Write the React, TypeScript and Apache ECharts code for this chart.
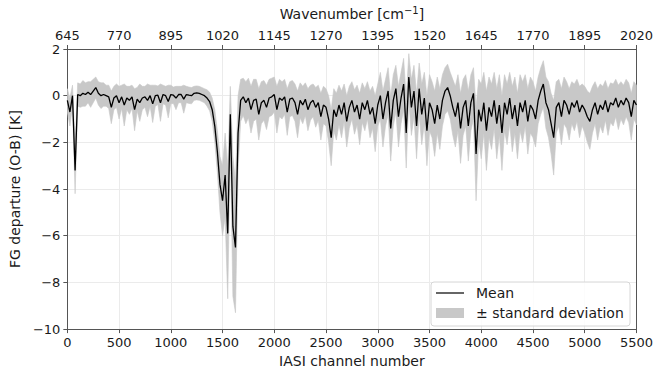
import React, { useEffect, useRef } from "react";
import * as echarts from "echarts";

// IASI channel sampling step of the arrays below (channel = index * step)
const CHANNEL_STEP = 25;

// Mean FG departure (O-B) [K], channels 0..5500 every 25
const MEAN = [
  // 0..400
  -0.2, -0.7, 0.0, -3.2, 0.05, 0.0, 0.1, 0.05, 0.15, 0.05, 0.2, 0.35, 0.1, 0.0, 0.05, 0.0, -0.05,
  // 425..1300
  -0.5, -0.1, 0.0, -0.3, -0.05, -0.4, -0.1, -0.2, -0.05, -0.6, -0.15, -0.3, -0.1, -0.05, -0.2, 0.0, -0.35, 0.0,
  0.02, -0.3, 0.05, 0.0, -0.25, 0.05, 0.02, -0.1, 0.05, 0.05, -0.15, 0.05, 0.02, 0.0, 0.1, 0.12, 0.1, 0.05,
  // 1325..1700
  0.0, -0.1, -0.25, -0.6, -1.3, -2.4, -3.8, -4.5, -3.4, -5.9, -0.8, -5.6, -6.5, -1.6, -0.2, -0.05,
  // 1725..2500
  -0.3, -0.1, -0.6, -0.2, -0.15, -0.8, -0.3, -0.2, -0.5, -0.1, -0.05, 0.05, -0.6, -0.1, -0.2, -0.05,
  -0.7, -0.15, -0.1, -0.3, -0.8, -0.2, -0.4, -0.15, -0.6, -0.3, -0.2, -0.5, -0.3, -0.9, -0.4, -0.5,
  // 2525..3000
  -1.0, -1.8, -0.6, -0.9, -0.4, -0.8, -0.3, -1.1, -0.5, -0.2, -0.7, -0.4, -1.0, -0.3, -0.6, -0.2, -0.8, -0.5, -1.2, -0.4,
  // 3025..3500
  0.0, -1.0, -0.3, 0.2, -1.4, -0.2, 0.3, -0.9, -0.1, 0.5, -1.6, 0.8, -0.5, 0.2, -1.3, 0.3, -0.8, -0.1, -1.5, -0.3,
  // 3525..4500
  -0.6, -1.2, -0.4, -1.0, -0.2, 0.2, 0.35, 0.0, -0.5, -0.9, -0.3, -1.4, -0.5, -0.2, -1.3, -0.3, 0.1, -2.5, -0.6, -1.1,
  -0.3, -1.5, -0.5, -0.9, -0.2, -1.2, -0.4, -1.6, -0.3, -0.8, -0.1, -1.0, -0.4, -1.3, -0.3, -0.7, -0.2, -1.1, -0.4, -0.6,
  // 4525..5500
  -1.0, -0.2, 0.2, 0.5, -0.3, -0.6, -1.2, -1.8, -0.5, -0.3, -0.9, -0.2, -0.4, -0.8, -0.3, -0.5, -0.2, -0.7, -0.4, -0.6,
  -0.9, -1.1, -0.6, -0.3, -0.8, -0.4, -0.6, -0.2, -0.7, -0.3, -0.4, -0.1, -0.5, -0.2, -0.4, -0.1, -0.3, -0.9, -0.2, -0.4,
];

// Standard deviation [K], same channels
const STD = [
  // 0..400
  0.5, 0.6, 0.45, 1.0, 0.5, 0.5, 0.55, 0.5, 0.45, 0.55, 0.5, 0.45, 0.5, 0.55, 0.5, 0.45, 0.5,
  // 425..1300
  0.7, 0.5, 0.5, 0.7, 0.5, 0.9, 0.5, 0.6, 0.5, 0.9, 0.5, 0.8, 0.5, 0.45, 0.7, 0.45, 0.8, 0.45,
  0.4, 0.8, 0.4, 0.4, 0.7, 0.4, 0.35, 0.5, 0.35, 0.35, 0.6, 0.35, 0.35, 0.35, 0.3, 0.3, 0.3, 0.3,
  // 1325..1700
  0.3, 0.35, 0.4, 0.5, 0.7, 0.9, 1.2, 1.5, 1.8, 2.8, 1.2, 3.0, 2.8, 1.6, 0.9, 0.8,
  // 1725..2500
  0.9, 0.85, 1.0, 0.9, 0.85, 1.1, 0.9, 0.85, 0.95, 0.8, 0.8, 0.75, 1.0, 0.8, 0.8, 0.75,
  1.0, 0.75, 0.75, 0.8, 1.0, 0.75, 0.8, 0.7, 0.9, 0.75, 0.7, 0.85, 0.75, 1.0, 0.8, 0.8,
  // 2525..3000
  1.0, 1.2, 0.9, 1.0, 0.85, 1.0, 0.8, 1.1, 0.9, 0.8, 0.95, 0.85, 1.1, 0.85, 0.9, 0.8, 1.0, 0.9, 1.2, 0.9,
  // 3025..3500
  1.0, 1.2, 1.0, 1.0, 1.4, 1.1, 1.0, 1.3, 1.1, 1.1, 1.5, 1.0, 1.2, 1.1, 1.4, 1.1, 1.3, 1.1, 1.5, 1.2,
  // 3525..4500
  1.2, 1.4, 1.2, 1.3, 1.1, 1.0, 1.0, 1.0, 1.2, 1.3, 1.2, 1.5, 1.2, 1.1, 1.5, 1.2, 1.1, 2.0, 1.3, 1.6,
  1.3, 1.7, 1.3, 1.4, 1.2, 1.5, 1.3, 1.6, 1.2, 1.3, 1.1, 1.4, 1.2, 1.4, 1.2, 1.3, 1.1, 1.4, 1.2, 1.2,
  // 4525..5500
  1.2, 1.0, 1.0, 1.0, 1.1, 1.2, 1.3, 1.6, 1.1, 1.0, 1.2, 1.0, 1.0, 1.1, 0.9, 1.0, 0.9, 1.1, 0.9, 1.0,
  1.1, 1.2, 1.0, 0.9, 1.1, 0.9, 1.0, 0.85, 1.0, 0.85, 0.9, 0.8, 0.95, 0.8, 0.85, 0.8, 0.85, 1.0, 0.8, 0.85,
];

// Top-axis tick labels (wavenumber, cm-1) at channels 0, 500, ..., 5500
const WAVENUMBER_LABELS = ["645", "770", "895", "1020", "1145", "1270", "1395", "1520", "1645", "1770", "1895", "2020"];

const FONT = "DejaVu Sans";
const TEXT = "#1a1a1a";
const SPINE = "#555555";
const GRIDC = "#ebebeb";
const BAND = "#c8c8c8";

export default function App() {
  const ref = useRef<HTMLDivElement>(null);

  useEffect(() => {
    if (!ref.current) return;
    const chart = echarts.init(ref.current, null, { renderer: "svg" });

    const channels = MEAN.map((_, i) => i * CHANNEL_STEP);
    const bandRows = MEAN.map((m, i) => [channels[i], m - STD[i], m + STD[i]]);
    const meanData = MEAN.map((m, i) => [channels[i], m]);

    const tickStyle = { color: TEXT, fontFamily: FONT, fontSize: 13 };
    const nameStyle = { color: TEXT, fontFamily: FONT, fontSize: 14 };

    chart.setOption({
      animation: false,
      backgroundColor: "#ffffff",
      grid: { left: 64, right: 8, top: 47, bottom: 38 },
      xAxis: [
        {
          type: "value",
          position: "bottom",
          min: 0,
          max: 5500,
          interval: 500,
          name: "IASI channel number",
          nameLocation: "middle",
          nameGap: 22,
          nameTextStyle: nameStyle,
          axisLine: { show: true, onZero: false, lineStyle: { color: SPINE, width: 1 } },
          axisTick: { show: true, length: 4, lineStyle: { color: SPINE } },
          axisLabel: { ...tickStyle, margin: 7, formatter: (v: number) => String(v) },
          splitLine: { show: true, lineStyle: { color: GRIDC, width: 1 } },
        },
        {
          type: "value",
          position: "top",
          min: 0,
          max: 5500,
          interval: 500,
          name: "Wavenumber [cm{sup|\u22121}]",
          nameLocation: "middle",
          nameGap: 27,
          nameTextStyle: {
            ...nameStyle,
            rich: {
              sup: { fontFamily: FONT, fontSize: 10, color: TEXT, verticalAlign: "top", padding: [0, 0, 7, 0] },
            },
          },
          axisLine: { show: true, onZero: false, lineStyle: { color: SPINE, width: 1 } },
          axisTick: { show: true, length: 4, lineStyle: { color: SPINE } },
          axisLabel: {
            ...tickStyle,
            margin: 7,
            formatter: (v: number) => WAVENUMBER_LABELS[Math.round(v / 500)] ?? "",
          },
          splitLine: { show: false },
        },
      ],
      yAxis: [
        {
          type: "value",
          min: -10,
          max: 2,
          interval: 2,
          name: "FG departure (O-B) [K]",
          nameLocation: "middle",
          nameGap: 40,
          nameTextStyle: nameStyle,
          axisLine: { show: true, onZero: false, lineStyle: { color: SPINE, width: 1 } },
          axisTick: { show: true, length: 4, lineStyle: { color: SPINE } },
          axisLabel: {
            ...tickStyle,
            margin: 7,
            formatter: (v: number) => (v < 0 ? "\u2212" + Math.abs(v) : String(v)),
          },
          splitLine: { show: true, lineStyle: { color: GRIDC, width: 1 } },
        },
        {
          type: "value",
          position: "right",
          min: -10,
          max: 2,
          interval: 2,
          axisLine: { show: true, onZero: false, lineStyle: { color: SPINE, width: 1 } },
          axisTick: { show: false },
          axisLabel: { show: false },
          splitLine: { show: false },
        },
      ],
      series: [
        {
          name: "± standard deviation",
          type: "custom",
          data: bandRows,
          encode: { x: 0, y: [1, 2] },
          clip: true,
          silent: true,
          z: 1,
          renderItem: (params: any, api: any) => {
            if (params.dataIndex !== 0) return null;
            const pts: number[][] = [];
            for (let i = 0; i < bandRows.length; i++) {
              pts.push(api.coord([bandRows[i][0], bandRows[i][2]]));
            }
            for (let i = bandRows.length - 1; i >= 0; i--) {
              pts.push(api.coord([bandRows[i][0], bandRows[i][1]]));
            }
            return {
              type: "polygon",
              shape: { points: pts },
              style: { fill: BAND, stroke: BAND, lineWidth: 0.6 },
            };
          },
        },
        {
          name: "Mean",
          type: "line",
          data: meanData,
          symbol: "none",
          lineStyle: { color: "#000000", width: 1.3 },
          z: 3,
        },
      ],
      graphic: [
        {
          type: "rect",
          shape: { x: 431, y: 282, width: 199, height: 44, r: 3 },
          style: { fill: "rgba(255,255,255,0.85)", stroke: "#d6d6d6", lineWidth: 1 },
          z: 10,
        },
        {
          type: "line",
          shape: { x1: 436, y1: 293, x2: 464, y2: 293 },
          style: { stroke: "#000000", lineWidth: 1.2 },
          z: 11,
        },
        {
          type: "rect",
          shape: { x: 436, y: 308, width: 28, height: 10 },
          style: { fill: BAND },
          z: 11,
        },
        {
          type: "text",
          x: 476,
          y: 293,
          style: { text: "Mean", fill: TEXT, font: `14px "${FONT}"`, textVerticalAlign: "middle" },
          z: 11,
        },
        {
          type: "text",
          x: 476,
          y: 313,
          style: { text: "± standard deviation", fill: TEXT, font: `14px "${FONT}"`, textVerticalAlign: "middle" },
          z: 11,
        },
      ],
    });

    return () => chart.dispose();
  }, []);

  return (
    <div
      ref={ref}
      style={{ position: "fixed", left: 0, top: 0, width: 656, height: 373, background: "#fff" }}
    />
  );
}
